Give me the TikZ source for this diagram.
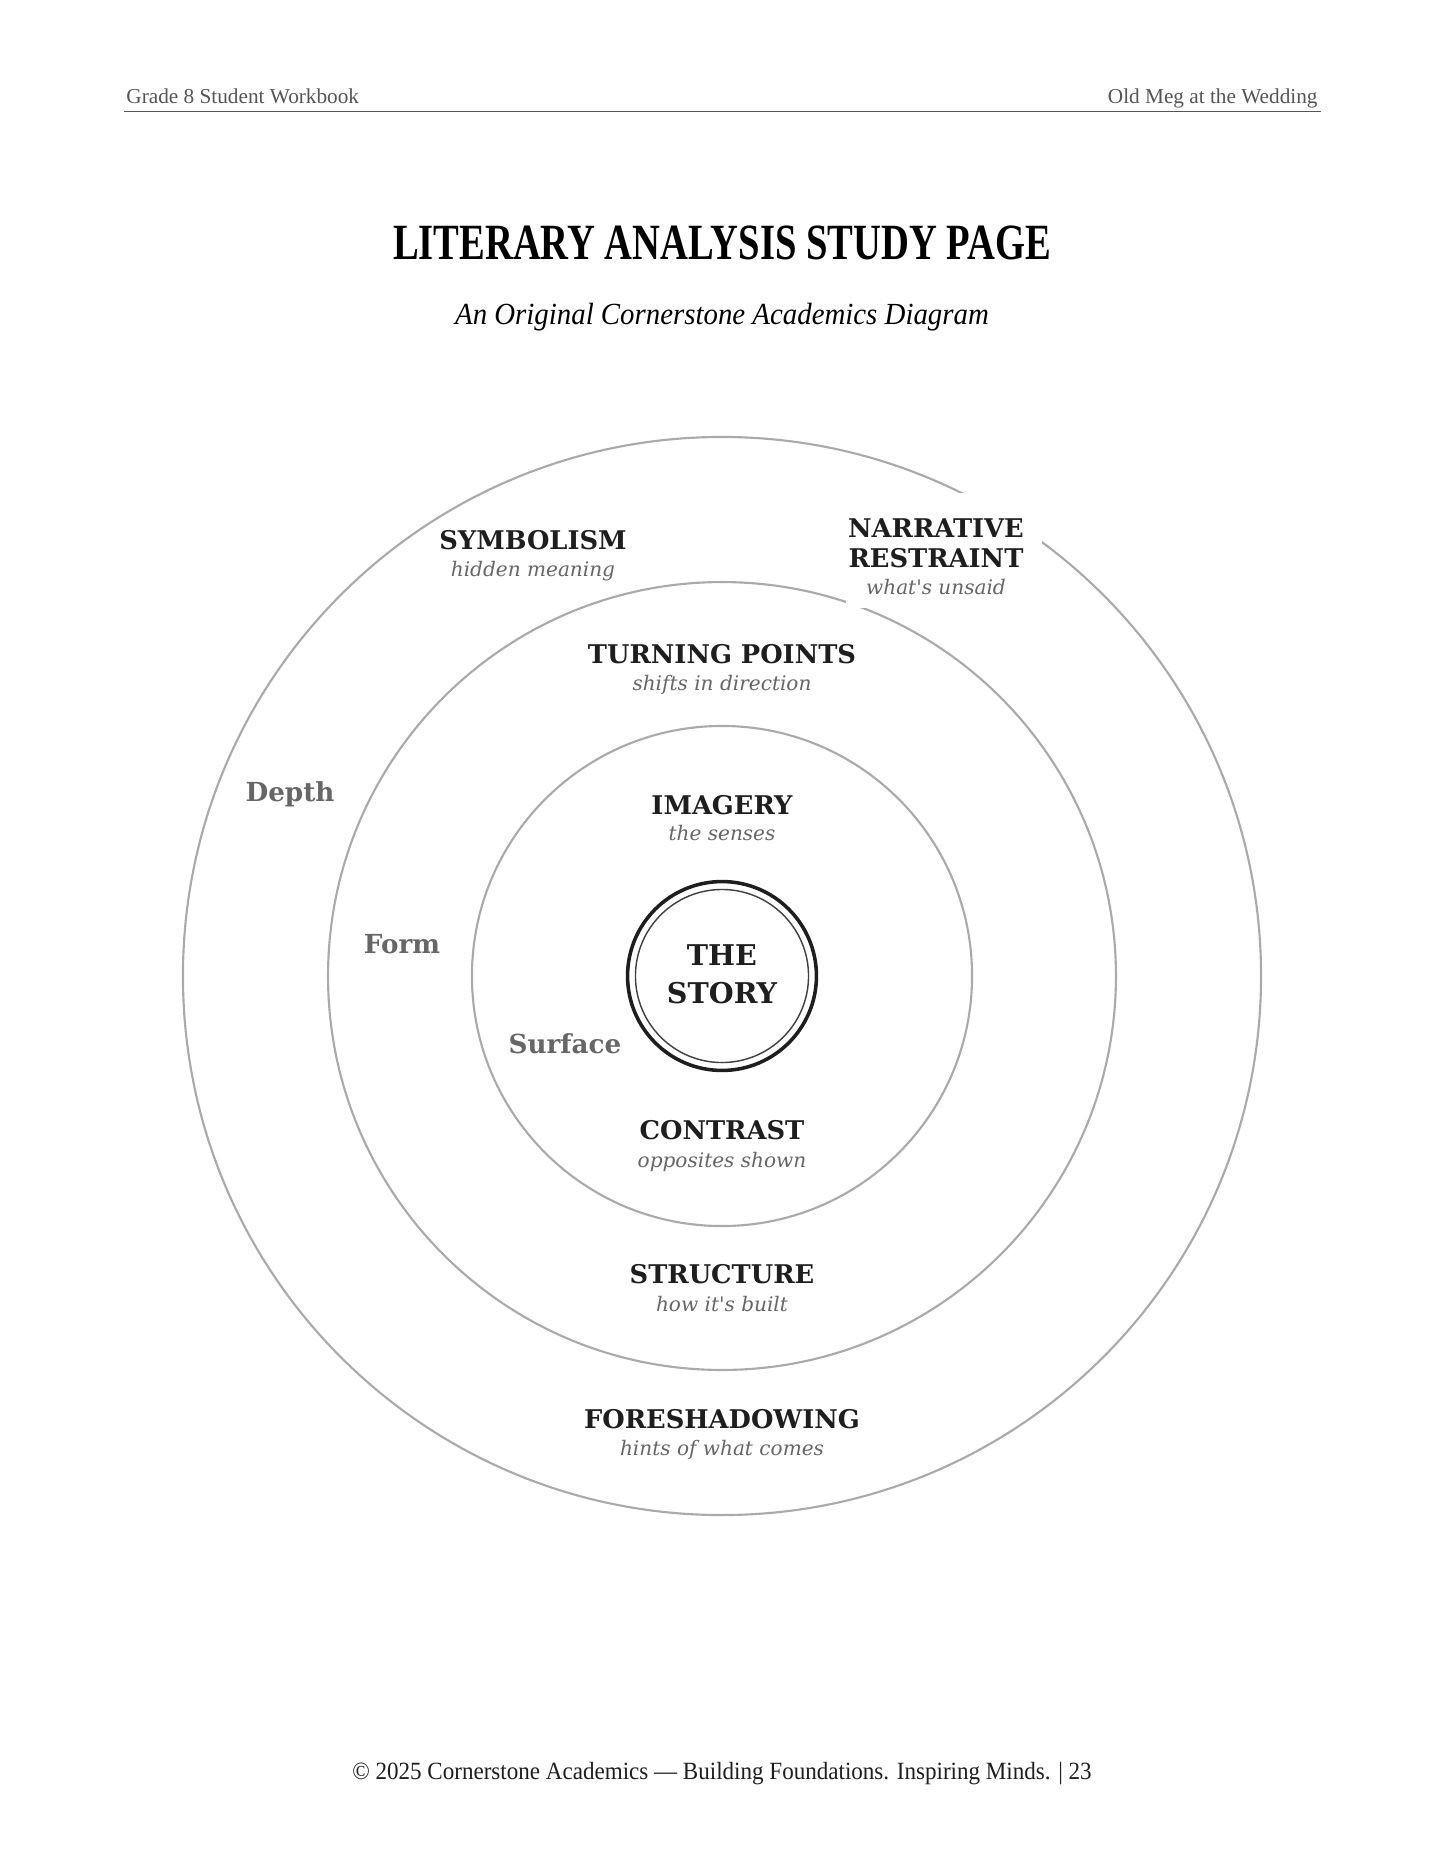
\documentclass[tikz,border=0pt]{standalone}
\usepackage{fontspec}
\setmainfont{Liberation Serif}
\newfontfamily\labelfont{DejaVu Serif}
\newfontfamily\titlefont[FakeStretch=0.76]{Liberation Serif}
\newfontfamily\subfont[FakeStretch=0.94]{Liberation Serif}
\newfontfamily\footfont[FakeStretch=0.93]{Liberation Serif}

\definecolor{ringgray}{HTML}{AAAAAA}
\definecolor{inkdark}{HTML}{1E1E1E}
\definecolor{subgray}{HTML}{666666}
\definecolor{rulegray}{HTML}{555555}

\tikzstyle{ring} = [draw=ringgray, line width=0.9pt, circle, inner sep=0pt]
\tikzstyle{headtext} = [font=\fontsize{9}{11}\selectfont, text=rulegray, inner sep=0pt]
\tikzstyle{pagetitle} = [font=\titlefont\bfseries\fontsize{21.5}{26}\selectfont, anchor=base, inner sep=0pt]
\tikzstyle{pagesub} = [font=\subfont\itshape\fontsize{13}{15}\selectfont, anchor=base, inner sep=0pt]
\tikzstyle{lbltitle} = [font=\labelfont\bfseries\fontsize{10.9}{13}\selectfont, text=inkdark, anchor=base, inner sep=0pt]
\tikzstyle{lblsub} = [font=\labelfont\itshape\fontsize{8.5}{10}\selectfont, text=subgray, anchor=base, inner sep=0pt]
\tikzstyle{layername} = [font=\labelfont\bfseries\fontsize{11.1}{13}\selectfont, text=subgray, anchor=base, inner sep=0pt]
\tikzstyle{storytext} = [font=\labelfont\bfseries\fontsize{12.1}{14}\selectfont, text=inkdark, anchor=base, inner sep=0pt]
\tikzstyle{foottext} = [font=\footfont\fontsize{10.5}{12}\selectfont, text=inkdark, anchor=base, inner sep=0pt]

\begin{document}
\begin{tikzpicture}[x=0.42353pt, y=-0.42353pt]
\useasboundingbox[fill=white] (0,0) rectangle (1445,1870);

%------------ Header ---------------------
\node[headtext, anchor=base west] (headleft) at (126,103) {Grade 8 Student Workbook};
\node[headtext, anchor=base east] (headright) at (1318,103) {Old Meg at the Wedding};
\coordinate (ruleleft) at (124,111.5);
\coordinate (ruleright) at (1321,111.5);
\draw[rulegray, line width=0.6pt] (ruleleft) -- (ruleright);

%------------ Title ---------------------
\node[pagetitle] (title) at (722,259.5) {LITERARY ANALYSIS STUDY PAGE};
\node[pagesub] (subtitle) at (722,324) {An Original Cornerstone Academics Diagram};

%------------ Rings ---------------------
\coordinate (c) at (722,976);
\node[ring, minimum size=456.6pt] (depthring) at (c) {};
\node[ring, minimum size=333.7pt] (formring) at (c) {};
\node[ring, minimum size=211.8pt] (surfacering) at (c) {};
\node[circle, draw=inkdark, line width=1.5pt, inner sep=0pt, minimum size=80pt] (storyouter) at (c) {};
\node[circle, draw=inkdark!85, line width=0.6pt, inner sep=0pt, minimum size=73.3pt] (storyinner) at (c) {};

% white patch behind narrative restraint
\fill[white] (846,493) rectangle (1042,608);

%------------ Labels ---------------------
\node[lbltitle] (symbolism) at (533,549.5) {SYMBOLISM};
\node[lblsub] (symbolismsub) at (533,576) {hidden meaning};

\node[lbltitle] (narrative) at (936,537.5) {NARRATIVE};
\node[lbltitle] (restraint) at (936,567.5) {RESTRAINT};
\node[lblsub] (restraintsub) at (936,594) {what's unsaid};

\node[lbltitle] (turning) at (722,663.5) {TURNING POINTS};
\node[lblsub] (turningsub) at (722,690) {shifts in direction};

\node[lbltitle] (imagery) at (722,814) {IMAGERY};
\node[lblsub] (imagerysub) at (722,840.5) {the senses};

\node[lbltitle] (contrast) at (722,1139.5) {CONTRAST};
\node[lblsub] (contrastsub) at (722,1167) {opposites shown};

\node[lbltitle] (structure) at (722,1283.5) {STRUCTURE};
\node[lblsub] (structuresub) at (722,1311) {how it's built};

\node[lbltitle] (foreshadowing) at (722,1428) {FORESHADOWING};
\node[lblsub] (foreshadowingsub) at (722,1455.5) {hints of what comes};

\node[layername] (depth) at (290,801) {Depth};
\node[layername] (form) at (402,953) {Form};
\node[layername] (surface) at (565,1053) {Surface};

\node[storytext] (the) at (722,965) {THE};
\node[storytext] (story) at (722,1003) {STORY};

%------------ Footer ---------------------
\node[foottext] (footer) at (722,1779) {© 2025 Cornerstone Academics — Building Foundations. Inspiring Minds. | 23};
\end{tikzpicture}
\end{document}
